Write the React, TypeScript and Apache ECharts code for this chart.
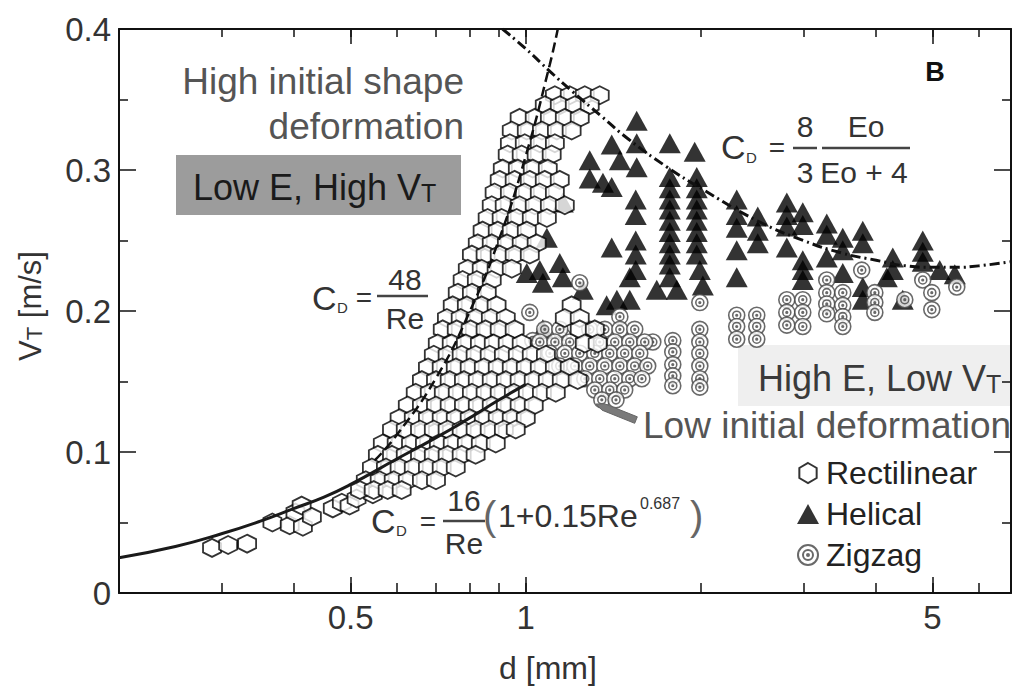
import React, { useEffect, useRef } from "react";
import * as echarts from "echarts";

const FONT = '"Liberation Sans", Arial, Helvetica, sans-serif';

// Axis ranges and ticks
const X_MIN = 0.2;
const X_MAX = 6.82;
const Y_MIN = 0;
const Y_MAX = 0.4;
const Y_STEP = 0.1;
const X_LABEL_TICKS = [0.5, 1, 5];
const X_MINOR_TICKS = [0.3, 0.4, 0.6, 0.7, 0.8, 0.9, 2, 3, 4, 6];

// Rectilinear: rows of [V_T, list of d]
const RECT_ROWS: [number, number[]][] = [
  [0.353, [1.122, 1.19, 1.263, 1.34]],
  [0.346, [1.078, 1.144, 1.214, 1.288]],
  [0.337, [0.976, 1.036, 1.1, 1.167, 1.238]],
  [0.328, [0.946, 1.004, 1.066, 1.131, 1.199]],
  [0.319, [0.939, 0.996, 1.057, 1.122]],
  [0.311, [0.931, 0.984, 1.044, 1.108]],
  [0.301, [0.913, 0.969, 1.028, 1.091]],
  [0.293, [0.902, 0.957, 1.016, 1.078, 1.144]],
  [0.284, [0.884, 0.939, 0.996, 1.057, 1.122]],
  [0.275, [0.874, 0.92, 0.976, 1.036, 1.1, 1.167]],
  [0.266, [0.86, 0.909, 0.965, 1.024, 1.087]],
  [0.257, [0.843, 0.895, 0.946, 1.004]],
  [0.248, [0.827, 0.874, 0.928, 0.984, 1.044]],
  [0.24, [0.808, 0.853, 0.902, 0.957, 1.016]],
  [0.23, [0.795, 0.84, 0.891, 0.946]],
  [0.222, [0.779, 0.824, 0.874]],
  [0.213, [0.764, 0.808, 0.857]],
  [0.204, [0.749, 0.792, 0.84, 0.891, 1.199]],
  [0.195, [0.732, 0.773, 0.82, 0.871, 0.924, 1.167, 1.238]],
  [0.187, [0.72, 0.761, 0.804, 0.853, 0.902, 0.957, 1.238, 1.314]],
  [0.177, [0.706, 0.746, 0.789, 0.834, 0.881, 0.931, 0.984, 1.263, 1.329]],
  [0.169, [0.695, 0.734, 0.776, 0.82, 0.867, 0.917, 0.969, 1.024, 1.083]],
  [0.16, [0.679, 0.717, 0.758, 0.801, 0.847, 0.895, 0.946, 1.0, 1.057, 1.122, 1.19]],
  [0.151, [0.663, 0.701, 0.74, 0.783, 0.827, 0.874, 0.924, 0.976, 1.032, 1.091, 1.153, 1.228]],
  [0.142, [0.647, 0.684, 0.723, 0.764, 0.808, 0.853, 0.902, 0.954, 1.008, 1.066, 1.126]],
  [0.133, [0.627, 0.663, 0.701, 0.74, 0.783, 0.827, 0.874, 0.924, 0.976, 1.032]],
  [0.124, [0.607, 0.642, 0.679, 0.717, 0.758, 0.801, 0.847, 0.895, 0.946, 1.0]],
  [0.116, [0.589, 0.622, 0.658, 0.695, 0.734, 0.776, 0.82, 0.867, 0.917, 0.961]],
  [0.106, [0.568, 0.6, 0.635, 0.671, 0.709, 0.749, 0.792, 0.837, 0.888]],
  [0.098, [0.557, 0.589, 0.622, 0.658, 0.695, 0.734, 0.776, 0.82]],
  [0.089, [0.544, 0.575, 0.607, 0.642, 0.679, 0.717, 0.758]],
  [0.08, [0.531, 0.561, 0.593, 0.627, 0.663, 0.701]],
  [0.073, [0.519, 0.548, 0.579, 0.612]],
];
const RECT_SPARSE: [number, number][] = [
  [0.289, 0.032], [0.308, 0.034], [0.332, 0.035], [0.367, 0.05], [0.393, 0.048],
  [0.402, 0.057], [0.412, 0.062], [0.414, 0.047], [0.429, 0.054], [0.466, 0.06],
  [0.483, 0.064], [0.498, 0.062], [0.512, 0.067], [0.546, 0.07],
];

// Helical: [d, V_T]
const HELICAL: [number, number][] = [
  [1.288, 0.307], [1.288, 0.294], [1.405, 0.318], [1.405, 0.288], [1.357, 0.291], [1.451, 0.307],
  [1.551, 0.335], [1.551, 0.319], [1.551, 0.302], [1.545, 0.279], [1.545, 0.268], [1.545, 0.25],
  [1.545, 0.24], [1.545, 0.229], [1.405, 0.245], [1.509, 0.224],
  [1.768, 0.319], [1.768, 0.295], [1.768, 0.287], [1.768, 0.279], [1.768, 0.272], [1.768, 0.264],
  [1.768, 0.256], [1.768, 0.248], [1.768, 0.24], [1.768, 0.233], [1.768, 0.224],
  [1.951, 0.313], [1.967, 0.295], [1.967, 0.287], [1.967, 0.279], [1.967, 0.272], [1.967, 0.264],
  [1.967, 0.256], [1.967, 0.248], [1.967, 0.24], [1.991, 0.229], [2.015, 0.218],
  [1.679, 0.215], [1.818, 0.215], [1.434, 0.208], [1.509, 0.208],
  [1.158, 0.277], [1.087, 0.252], [1.144, 0.234], [1.004, 0.227], [1.057, 0.229], [1.07, 0.22],
  [1.158, 0.224], [1.253, 0.215], [1.07, 0.187], [1.377, 0.204],
  [2.304, 0.279], [2.304, 0.268], [2.304, 0.259], [2.304, 0.243], [2.304, 0.224],
  [2.504, 0.267], [2.504, 0.257], [2.504, 0.248],
  [2.809, 0.277], [2.809, 0.268], [2.809, 0.26], [2.809, 0.245],
  [2.992, 0.27], [2.992, 0.261], [2.992, 0.236], [2.992, 0.229], [2.992, 0.222],
  [3.29, 0.262], [3.29, 0.254], [3.29, 0.238],
  [3.505, 0.252], [3.505, 0.243], [3.505, 0.227],
  [3.794, 0.257], [3.794, 0.248], [3.794, 0.217], [3.794, 0.208],
  [4.173, 0.224], [4.272, 0.238], [4.272, 0.229], [4.444, 0.208],
  [4.81, 0.25], [4.81, 0.242], [4.81, 0.235], [5.144, 0.229], [5.46, 0.226],
];

// Zigzag: [d, V_T]
const ZIGZAG: [number, number][] = [
  [1.789, 0.179], [1.789, 0.171], [1.789, 0.162], [1.789, 0.154], [1.789, 0.147],
  [1.991, 0.206], [1.991, 0.187], [1.991, 0.178], [1.991, 0.17], [1.991, 0.161], [1.991, 0.152], [1.991, 0.146],
  [2.304, 0.197], [2.304, 0.189], [2.304, 0.18],
  [2.494, 0.197], [2.494, 0.189], [2.494, 0.18],
  [2.809, 0.208], [2.809, 0.199], [2.809, 0.19],
  [2.992, 0.208], [2.992, 0.199], [2.992, 0.189],
  [3.29, 0.222], [3.29, 0.213], [3.29, 0.205], [3.29, 0.198],
  [3.505, 0.213], [3.505, 0.204], [3.505, 0.196], [3.505, 0.189],
  [3.778, 0.229], [3.979, 0.213], [3.979, 0.206], [3.979, 0.199],
  [4.48, 0.208], [4.81, 0.222], [4.985, 0.213], [4.985, 0.201], [5.503, 0.217],
  [1.238, 0.22], [1.016, 0.199], [1.028, 0.179], [1.158, 0.182], [1.451, 0.196], [1.653, 0.178],
  [1.078, 0.187], [1.144, 0.187], [1.288, 0.187], [1.367, 0.187], [1.451, 0.187], [1.539, 0.187],
  [1.057, 0.178], [1.122, 0.178], [1.19, 0.178], [1.34, 0.178], [1.422, 0.178], [1.509, 0.178], [1.601, 0.178],
  [1.1, 0.17], [1.167, 0.17], [1.238, 0.17], [1.314, 0.17], [1.394, 0.17], [1.479, 0.17], [1.57, 0.17],
  [1.144, 0.161], [1.214, 0.161], [1.288, 0.161], [1.367, 0.161], [1.451, 0.161], [1.539, 0.161], [1.62, 0.161],
  [1.263, 0.152], [1.34, 0.152], [1.422, 0.152], [1.509, 0.152], [1.583, 0.152],
  [1.314, 0.144], [1.394, 0.144], [1.479, 0.144],
  [1.351, 0.137], [1.429, 0.137],
];

// Model curves: [d, V_T]
const CURVE_SCHILLER: [number, number][] = [
  [0.2, 0.025], [0.25, 0.033], [0.3, 0.042], [0.35, 0.051], [0.4, 0.06], [0.45, 0.068],
  [0.5, 0.077], [0.6, 0.095], [0.7, 0.11], [0.8, 0.124], [0.9, 0.137], [1.0, 0.148],
];
const CURVE_STOKES: [number, number][] = [
  [0.55, 0.094], [0.6, 0.112], [0.7, 0.152], [0.8, 0.199], [0.9, 0.251], [1.0, 0.31],
  [1.1, 0.375], [1.135, 0.4],
];
const CURVE_EO: [number, number][] = [
  [0.912, 0.4], [1.0, 0.386], [1.1, 0.37], [1.2, 0.356], [1.35, 0.338], [1.5, 0.322],
  [1.75, 0.302], [2.0, 0.287], [2.5, 0.264], [3.0, 0.25], [3.5, 0.241], [4.0, 0.236],
  [4.5, 0.232], [5.0, 0.231], [5.5, 0.231], [6.0, 0.232], [6.82, 0.235],
];

const SERIES_NAMES = ["Rectilinear", "Helical", "Zigzag"];

const HEX_PATH = "path://M10,0L18.66,5L18.66,15L10,20L1.34,15L1.34,5Z";
const ZIG_PATH =
  "path://M0,10A10,10,0,1,0,20,10A10,10,0,1,0,0,10Z M5,10A5,5,0,1,0,15,10A5,5,0,1,0,5,10Z M9,10A1,1,0,1,0,11,10A1,1,0,1,0,9,10Z";

const lg = (v: number) => Math.log10(v);

function tickAxis(position: "top" | "bottom", values: number[], length: number, labels: boolean) {
  return {
    type: "value",
    position,
    min: lg(X_MIN),
    max: lg(X_MAX),
    axisLine: { show: false, onZero: false },
    splitLine: { show: false },
    axisTick: {
      show: true,
      inside: true,
      length,
      customValues: values.map(lg),
      lineStyle: { color: "#111", width: 1.5 },
    },
    axisLabel: labels
      ? {
          show: true,
          customValues: X_LABEL_TICKS.map(lg),
          formatter: (v: number) => String(Number(Math.pow(10, v).toFixed(2))),
          fontSize: 33,
          color: "#333",
          fontFamily: FONT,
          margin: 8,
        }
      : { show: false },
  };
}

function text(x: number, y: number, t: string, fontSize: number, fill: string, align = "left", extra: any = {}) {
  return {
    type: "text",
    x,
    y,
    z: 100,
    style: { text: t, fontSize, fontFamily: FONT, fill, align, verticalAlign: "middle", ...extra },
  };
}
function bar(x1: number, x2: number, y: number) {
  return { type: "line", z: 100, shape: { x1, y1: y, x2, y2: y }, style: { stroke: "#444", lineWidth: 2.5 } };
}

export default function App() {
  const ref = useRef<HTMLDivElement>(null);
  useEffect(() => {
    if (!ref.current) return;
    const chart = echarts.init(ref.current, null, { renderer: "svg" });
    const rect: [number, number][] = [
      ...RECT_SPARSE,
      ...RECT_ROWS.flatMap(([v, ds]) => ds.map((d) => [d, v] as [number, number])),
    ];
    const allTicks = [...X_MINOR_TICKS, ...X_LABEL_TICKS];
    const yAxisBase = (position: "left" | "right", showLabel: boolean) => ({
      type: "value",
      position,
      min: Y_MIN,
      max: Y_MAX,
      interval: Y_STEP,
      axisLine: { show: true, onZero: false, lineStyle: { color: "#111", width: 2 } },
      axisTick: { show: true, inside: true, length: 17, lineStyle: { color: "#111", width: 1.5 } },
      minorTick: { show: true, splitNumber: 2, length: 9, lineStyle: { color: "#111", width: 1.5 } },
      splitLine: { show: false },
      axisLabel: showLabel
        ? { show: true, fontSize: 33, color: "#333", fontFamily: FONT, margin: 8 }
        : { show: false },
    });
    const logAxis = (position: "top" | "bottom") => ({
      type: "log",
      logBase: 10,
      position,
      min: X_MIN,
      max: X_MAX,
      axisLine: { show: true, onZero: false, lineStyle: { color: "#111", width: 2 } },
      axisTick: { show: false },
      minorTick: { show: false },
      axisLabel: { show: false },
      splitLine: { show: false },
    });
    const sub = (size: number, fill: string) => ({
      t: { fontSize: size, fill, fontFamily: FONT, verticalAlign: "bottom" },
    });

    const option: any = {
      animation: false,
      backgroundColor: "#fff",
      textStyle: { fontFamily: FONT },
      grid: { left: 119, right: 1, top: 29, bottom: 96, containLabel: false, outerBoundsMode: "none" },
      xAxis: [
        logAxis("bottom"),
        logAxis("top"),
        tickAxis("bottom", allTicks, 10, true),
        tickAxis("bottom", X_LABEL_TICKS, 16, false),
        tickAxis("top", allTicks, 8, false),
        tickAxis("top", X_LABEL_TICKS, 15, false),
      ],
      yAxis: [yAxisBase("left", true), yAxisBase("right", false)],
      legend: {
        data: SERIES_NAMES,
        orient: "vertical",
        left: 792,
        top: 452,
        itemWidth: 22,
        itemHeight: 20,
        itemGap: 9,
        textStyle: { fontSize: 32, color: "#222", fontFamily: FONT, padding: [0, 0, 0, 2] },
      },
      series: [
        {
          type: "scatter",
          name: "Helical",
          data: HELICAL,
          symbol: "triangle",
          symbolSize: [22, 20],
          itemStyle: { color: "#000" },
          z: 2,
          silent: true,
        },
        {
          type: "scatter",
          name: "Zigzag",
          data: ZIGZAG,
          symbol: ZIG_PATH,
          symbolSize: 16,
          itemStyle: { color: "#fff", borderColor: "#444", borderWidth: 1.6 },
          z: 3,
          silent: true,
        },
        {
          type: "scatter",
          name: "Rectilinear",
          data: rect,
          symbol: HEX_PATH,
          symbolSize: 18,
          itemStyle: { color: "#fff", borderColor: "#000", borderWidth: 1.8 },
          z: 4,
          silent: true,
        },
        {
          type: "line",
          name: "Schiller",
          data: CURVE_SCHILLER,
          showSymbol: false,
          smooth: true,
          lineStyle: { color: "#1a1a1a", width: 3 },
          z: 6,
          silent: true,
        },
        {
          type: "line",
          name: "Stokes",
          data: CURVE_STOKES,
          showSymbol: false,
          smooth: true,
          lineStyle: { color: "#111", width: 2.5, type: [10, 5] },
          z: 6,
          silent: true,
        },
        {
          type: "line",
          name: "Eo",
          data: CURVE_EO,
          showSymbol: false,
          smooth: true,
          lineStyle: { color: "#111", width: 3, type: [10, 4, 2, 4] },
          z: 6,
          silent: true,
        },
      ],
      graphic: [
        { type: "rect", z: 90, shape: { x: 176, y: 155, width: 285, height: 60 }, style: { fill: "#9c9c9c" } },
        { type: "rect", z: -1, shape: { x: 738, y: 345, width: 280, height: 61 }, style: { fill: "#efefef" } },
        text(464, 81, "High initial shape", 37, "#555", "right"),
        text(464, 126, "deformation", 37, "#555", "right"),
        text(193, 187, "Low E, High V{t|T}", 36, "#1a1a1a", "left", { rich: sub(25, "#1a1a1a") }),
        text(758, 378, "High E, Low V{t|T}", 36, "#3a3a3a", "left", { rich: sub(25, "#3a3a3a") }),
        text(643, 425, "Low initial deformation", 37, "#555"),
        {
          type: "polygon",
          z: 100,
          shape: { points: [[637.3, 416.8], [604.7, 403.8], [596, 404], [602.1, 410.2], [634.7, 423.3]] },
          style: { fill: "#7a7a7a", stroke: "#666", lineWidth: 1 },
        },
        text(935, 72, "B", 27, "#111", "center", { fontWeight: "bold" }),
        // C_D = 48/Re
        text(312, 298, "C", 34, "#333"),
        text(337, 307, "D", 15, "#333"),
        text(364, 297, "=", 28, "#333", "center"),
        bar(377, 428, 296),
        text(405, 279, "48", 30, "#333", "center"),
        text(405, 318, "Re", 30, "#333", "center"),
        // C_D = 8/3 Eo/(Eo+4)
        text(721, 147, "C", 34, "#333"),
        text(746, 157, "D", 15, "#333"),
        text(777, 147, "=", 28, "#333", "center"),
        bar(793, 817, 148),
        bar(822, 910, 148),
        text(805, 126, "8", 30, "#333", "center"),
        text(805, 172, "3", 30, "#333", "center"),
        text(866, 126, "Eo", 30, "#333", "center"),
        text(864, 172, "Eo + 4", 30, "#333", "center"),
        // C_D = 16/Re (1+0.15Re^0.687)
        text(371, 521, "C", 34, "#333"),
        text(396, 530, "D", 15, "#333"),
        text(428, 521, "=", 28, "#333", "center"),
        bar(443, 485, 521),
        text(464, 500, "16", 30, "#333", "center"),
        text(464, 543, "Re", 30, "#333", "center"),
        text(483, 516, "(", 40, "#666"),
        text(498, 516, "1+0.15Re", 32, "#333"),
        text(640, 503, "0.687", 16, "#333"),
        text(690, 516, ")", 40, "#666"),
        // axis titles
        text(548, 668, "d [mm]", 32, "#333", "center"),
        {
          type: "text",
          x: 30,
          y: 306,
          rotation: Math.PI / 2,
          z: 100,
          style: {
            text: "V{t|T} [m/s]",
            fontSize: 31,
            fontFamily: FONT,
            fill: "#333",
            align: "center",
            verticalAlign: "middle",
            rich: sub(22, "#333"),
          },
        },
      ],
    };
    chart.setOption(option);
    return () => chart.dispose();
  }, []);
  return (
    <div
      ref={ref}
      style={{ position: "fixed", left: 0, top: 0, width: 1012, height: 689, background: "#fff" }}
    />
  );
}
